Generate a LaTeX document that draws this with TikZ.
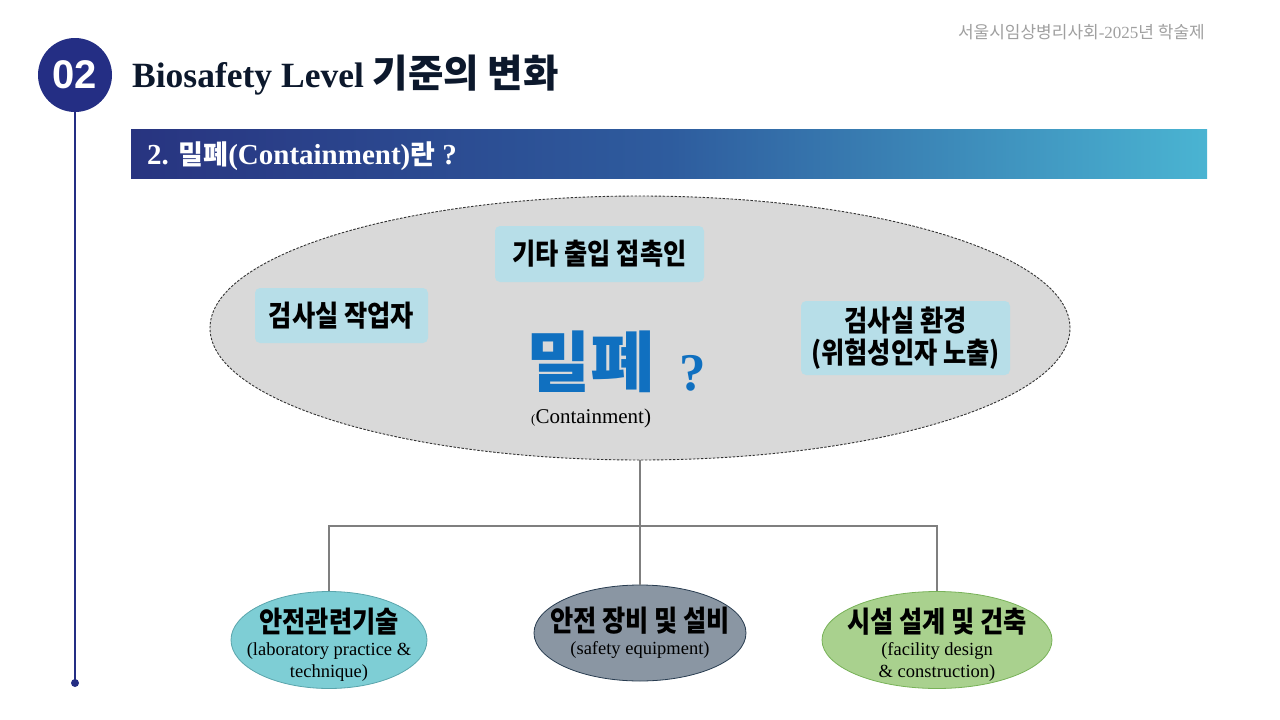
\documentclass[tikz,border=0pt]{standalone}
\usepackage{fontspec}
\setmainfont{Liberation Serif}
\newfontfamily\kr{Noto Sans CJK KR}
\newfontfamily\krc[FakeStretch=0.87]{Noto Sans CJK KR}
\newfontfamily\krw[FakeStretch=1.06]{Noto Sans CJK KR}
\newfontfamily\arialf{Liberation Sans}
\usetikzlibrary{shapes.geometric}
\definecolor{navy}{RGB}{36,46,132}
\definecolor{titlec}{RGB}{12,24,44}
\definecolor{barL}{RGB}{40,52,128}
\definecolor{barM}{RGB}{46,92,158}
\definecolor{barR}{RGB}{74,180,210}
\definecolor{grayfill}{RGB}{217,217,217}
\definecolor{boxfill}{RGB}{183,222,232}
\definecolor{bluetxt}{RGB}{16,112,192}
\definecolor{connc}{RGB}{127,127,127}
\definecolor{tealf}{RGB}{126,206,213}
\definecolor{teald}{RGB}{90,165,172}
\definecolor{slatef}{RGB}{138,150,163}
\definecolor{slated}{RGB}{40,60,80}
\definecolor{greenf}{RGB}{169,209,142}
\definecolor{greend}{RGB}{120,178,88}
\definecolor{orgc}{RGB}{160,160,160}
\tikzset{
  lbox/.style={rectangle, rounded corners=5pt, fill=boxfill, inner sep=0pt, align=center,
    font=\krc\bfseries\fontsize{29}{32}\selectfont, text=black},
  conn/.style={draw=connc, line width=2pt},
  oval/.style={ellipse, inner sep=0pt, line width=0.8pt},
  kort/.style={inner sep=0pt, anchor=base, font=\krc\bfseries\fontsize{29}{29}\selectfont},
  engt/.style={inner sep=0pt, anchor=base, font=\fontsize{18.5}{18.5}\selectfont},
}
\begin{document}
\begin{tikzpicture}[x=1pt,y=-1pt]
\useasboundingbox (0,0) rectangle (1280,720);
\fill[white] (0,0) rectangle (1280,720);

% header
\node[circle, fill=navy, minimum size=74pt, inner sep=0pt, text=white,
  font=\arialf\bfseries\fontsize{40}{40}\selectfont] (num) at (75,75) {02};
\coordinate (dotc) at (75,683);
\draw[navy, line width=1.5pt] (num.south) -- (dotc);
\fill[navy] (dotc) circle (4pt);

\node[anchor=base west, inner sep=0pt, text=titlec] (title) at (132,87)
  {{\fontsize{35.5}{35.5}\selectfont\bfseries Biosafety Level\ }{\kr\bfseries\fontsize{38.5}{38.5}\selectfont 기준의 변화}};

\node[anchor=base east, inner sep=0pt, text=orgc] (org) at (1205,38)
  {\fontsize{17}{17}\selectfont{\kr 서울시임상병리사회}-2025{\kr 년 학술제}};

\node[rectangle, anchor=north west, inner sep=0pt, minimum width=1076pt, minimum height=49pt,
  left color=barL, right color=barR, middle color=barM] (bar) at (131,129) {};
\node[anchor=base west, inner sep=0pt, text=white] (bartxt) at (147,164)
  {\fontsize{29}{29}\selectfont\bfseries 2. {\kr\fontsize{27}{27}\selectfont 밀폐}(Containment){\kr\fontsize{27}{27}\selectfont 란} ?};

% main ellipse
\node[ellipse, inner sep=0pt, minimum width=860pt, minimum height=264pt, fill=grayfill,
  draw=black!80, line width=0.9pt, dash pattern=on 2.5pt off 1.5pt] (main) at (640,328) {};

\node[lbox, minimum width=209pt, minimum height=56pt] (b1) at (599.5,254) {기타 출입 접촉인};
\node[lbox, minimum width=173pt, minimum height=55pt] (b2) at (341.5,315.5) {검사실 작업자};
\node[lbox, minimum width=209pt, minimum height=74pt] (b3) at (905.5,338) {검사실 환경\\(위험성인자 노출)};

\node[anchor=base west, inner sep=0pt, text=bluetxt, font=\krw\bfseries\fontsize{66}{66}\selectfont] (mil) at (526,386) {밀폐};
\node[anchor=base west, inner sep=0pt, text=bluetxt, font=\bfseries\fontsize{53}{53}\selectfont] (q) at (679,390) {?};
\node[anchor=base west, inner sep=0pt, font=\fontsize{21}{21}\selectfont] (cont) at (531,423) {{\fontsize{13}{13}\selectfont(}Containment)};

% bottom ovals
\node[oval, minimum width=196pt, minimum height=97pt, fill=tealf, draw=teald] (e1) at (329,640) {};
\node[oval, minimum width=212pt, minimum height=96pt, fill=slatef, draw=slated] (e2) at (640,633) {};
\node[oval, minimum width=230pt, minimum height=97pt, fill=greenf, draw=greend] (e3) at (937,640) {};

% connectors
\coordinate (j) at (640,526);
\draw[conn] (main.south) -- (e2.north);
\draw[conn] (e1.north) -- (e1.north |- j) -- (e3.north |- j) -- (e3.north);

% oval texts
\node[kort] (k1) at (329,632) {안전관련기술};
\node[engt] (l1a) at (329,655) {(laboratory practice \&};
\node[engt] (l1b) at (329,677) {technique)};
\node[kort] (k2) at (640,631) {안전 장비 및 설비};
\node[engt] (l2a) at (640,654) {(safety equipment)};
\node[kort] (k3) at (937,632) {시설 설계 및 건축};
\node[engt] (l3a) at (937,655) {(facility design};
\node[engt] (l3b) at (937,677) {\& construction)};
\end{tikzpicture}
\end{document}
